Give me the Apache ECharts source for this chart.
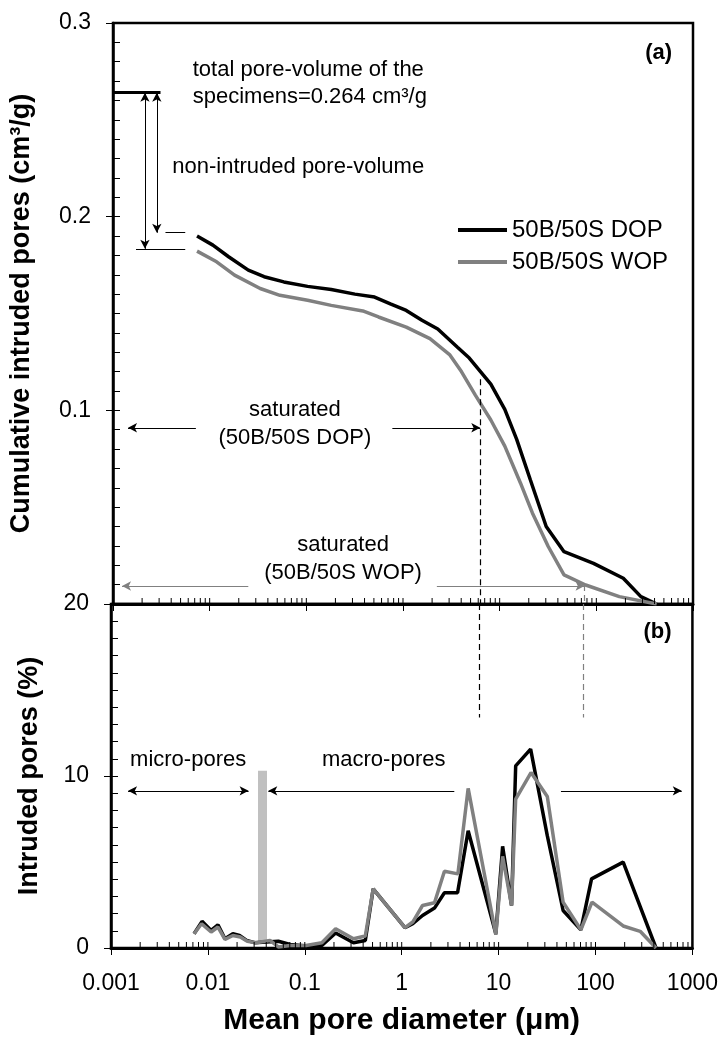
<!DOCTYPE html>
<html><head><meta charset="utf-8">
<script src="https://cdn.jsdelivr.net/npm/echarts/dist/echarts.min.js"></script>
<style>html,body{margin:0;padding:0;background:#fff}#c{width:721px;height:1037px}</style>
</head><body><div id="c"></div>
<script>
const FONT = 'Liberation Sans, Arial, Helvetica, sans-serif';
const BLACK = '#000000';
const GRAY = '#808080';

// ---- Panel (a): cumulative intruded pores (cm3/g) vs mean pore diameter (um)
const cumDiamDOP = [0.0074,0.0108,0.0157,0.0251,0.0366,0.0585,0.103,0.181,0.318,0.508,0.74,1.08,1.57,2.29,3.66,4.85,8.1,11.3,15,20.8,30.3,46.3,93.5,190,289,421];
const cumDOP     = [0.190,0.1853,0.1793,0.1724,0.169,0.1663,0.164,0.1624,0.160,0.1585,0.155,0.1516,0.1465,0.142,0.1326,0.127,0.1135,0.1005,0.085,0.064,0.040,0.027,0.021,0.0133,0.0038,0];
const cumDiamWOP = [0.0074,0.0118,0.0181,0.0333,0.0533,0.103,0.181,0.384,0.558,1.08,1.9,3.03,4.02,5.58,8.1,11.3,16.4,21.8,31.8,46.3,77.6,173,421];
const cumWOP     = [0.1822,0.1767,0.1698,0.1629,0.1594,0.1568,0.1542,0.1513,0.1482,0.143,0.137,0.1288,0.120,0.108,0.095,0.0815,0.0625,0.047,0.0297,0.015,0.0098,0.0038,0];

// ---- Panel (b): intruded pores (%) vs mean pore diameter (um)
const incDiamDOP = [0.0072,0.0087,0.0108,0.0127,0.015,0.0181,0.0212,0.0251,0.0303,0.0402,0.0533,0.0706,0.103,0.15,0.208,0.318,0.421,0.508,1.08,1.3,1.64,2.18,2.76,3.77,4.85,9.36,11,13.6,15,21.4,31.8,46.3,70.6,91,193,421];
const incDOP     = [0.83,1.55,1.02,1.35,0.54,0.83,0.73,0.44,0.31,0.35,0.39,0.2,0.12,0.15,0.87,0.31,0.44,3.44,1.18,1.41,1.89,2.32,3.21,3.21,6.82,0.83,5.91,2.47,10.59,11.56,6.53,2.18,1.06,4.02,4.99,0];
const incDiamWOP = [0.0072,0.0086,0.0108,0.0127,0.015,0.0181,0.0216,0.0255,0.0314,0.0437,0.0533,0.0706,0.103,0.15,0.208,0.318,0.421,0.508,1.08,1.3,1.64,2.18,2.76,3.8,4.85,9.36,11,13.6,15,21.6,31.8,46.3,70.6,92,193,289,421];
const incWOP     = [0.83,1.41,0.93,1.22,0.5,0.73,0.64,0.39,0.31,0.44,0.06,0.15,0.15,0.31,1.12,0.54,0.7,3.44,1.18,1.51,2.47,2.63,4.46,4.31,9.28,0.77,5.33,2.47,8.66,10.2,8.81,2.67,1.06,2.67,1.28,0.97,0];

// ---- axis ticks
const xDecades = [0.001,0.01,0.1,1,10,100,1000];
const xMultipliers = [1,2,3,4,5,6,7,8,9];
const xInnerTicks = [];
xDecades.slice(0, 6).forEach(d => xMultipliers.forEach(m => xInnerTicks.push(+(d * m).toPrecision(3))));
xInnerTicks.push(1000);

// ---- annotation values
const totalPoreVolume = 0.264;
const nonIntrudedDOP = 0.1917;
const nonIntrudedWOP = 0.1834;
const saturatedDOPdiam = 6.3;
const saturatedWOPdiam = 75.5;
const microMacroLimit = 0.0366;

const pair = (xs, ys) => xs.map((x, i) => [x, ys[i]]);

function seg(x1, y1, x2, y2, color, width, s1, s2, type) {
  return [
    {coord: [x1, y1], symbol: s1 || 'none', lineStyle: {color: color, width: width, type: type || 'solid'}},
    {coord: [x2, y2], symbol: s2 || 'none'}
  ];
}

function tickSeries(xi, yi) {
  return {
    type: 'custom', xAxisIndex: xi, yAxisIndex: yi, silent: true, clip: false, z: 10,
    data: xInnerTicks.map(v => [v, 0]),
    renderItem: function (params, api) {
      const p = api.coord([api.value(0), api.value(1)]);
      return {type: 'line', shape: {x1: p[0], y1: p[1], x2: p[0], y2: p[1] - 6},
              style: {stroke: BLACK, lineWidth: 1}};
    }
  };
}

const markLineBase = {silent: true, animation: false, symbolSize: [7, 9], label: {show: false}, emphasis: {disabled: true}};

const xCommon = {
  type: 'log', logBase: 10, min: 0.001, max: 1000, splitNumber: 6,
  axisLine: {show: true, lineStyle: {color: BLACK, width: 3}},
  axisTick: {show: true, inside: false, length: 7, lineStyle: {color: BLACK, width: 1}},
  splitLine: {show: false}, minorTick: {show: false}
};

const option = {
  animation: false,
  backgroundColor: '#ffffff',
  textStyle: {fontFamily: FONT},
  grid: [
    {left: 111, top: 23, width: 582, height: 581, show: true, borderColor: BLACK, borderWidth: 2.5, backgroundColor: 'transparent', containLabel: false},
    {left: 111, top: 604, width: 582, height: 345, show: true, borderColor: BLACK, borderWidth: 2.5, backgroundColor: 'transparent', containLabel: false}
  ],
  legend: {
    data: [{name: '50B/50S DOP', icon: 'rect'}, {name: '50B/50S WOP', icon: 'rect'}],
    orient: 'vertical', left: 453, top: 213,
    itemWidth: 49, itemHeight: 4, itemGap: 8, selectedMode: false,
    textStyle: {fontSize: 24, lineHeight: 24, fontFamily: FONT, color: BLACK}
  },
  xAxis: [
    Object.assign({}, xCommon, {gridIndex: 0, axisLabel: {show: false}}),
    Object.assign({}, xCommon, {gridIndex: 1,
      axisLabel: {show: true, fontSize: 23, fontFamily: FONT, color: BLACK, margin: 24,
        formatter: v => String(Number(Number(v).toPrecision(6)))},
      name: 'Mean pore diameter (μm)', nameLocation: 'middle', nameGap: 58,
      nameTextStyle: {fontSize: 30, fontWeight: 'bold', fontFamily: FONT, color: BLACK}})
  ],
  yAxis: [
    {gridIndex: 0, type: 'value', min: 0, max: 0.3, interval: 0.1, position: 'left',
     axisLine: {show: true, lineStyle: {color: BLACK, width: 2.5}},
     axisTick: {show: true, inside: false, length: 7, lineStyle: {color: BLACK}},
     axisLabel: {fontSize: 23, fontFamily: FONT, color: BLACK, margin: 22,
       formatter: v => (v === 0 ? '' : v.toFixed(1))},
     splitLine: {show: false},
     name: 'Cumulative intruded pores (cm³/g)', nameLocation: 'middle', nameGap: 78,
     nameTextStyle: {fontSize: 27, fontWeight: 'bold', fontFamily: FONT, color: BLACK}},
    {gridIndex: 0, type: 'value', min: 0, max: 0.3, interval: 0.1, position: 'left', offset: 0,
     axisLine: {show: false}, axisLabel: {show: false}, splitLine: {show: false},
     axisTick: {show: true, inside: true, length: 7, lineStyle: {color: BLACK}},
     minorTick: {show: true, splitNumber: 10, length: 7, lineStyle: {color: BLACK, width: 1}}},
    {gridIndex: 1, type: 'value', min: 0, max: 20, interval: 10, position: 'left',
     axisLine: {show: true, lineStyle: {color: BLACK, width: 2.5}},
     axisTick: {show: true, inside: false, length: 7, lineStyle: {color: BLACK}},
     axisLabel: {fontSize: 23, fontFamily: FONT, color: BLACK, margin: 22},
     splitLine: {show: false},
     name: 'Intruded pores (%)', nameLocation: 'middle', nameGap: 68,
     nameTextStyle: {fontSize: 27, fontWeight: 'bold', fontFamily: FONT, color: BLACK}},
    {gridIndex: 1, type: 'value', min: 0, max: 20, interval: 10, position: 'left', offset: 0,
     axisLine: {show: false}, axisLabel: {show: false}, splitLine: {show: false},
     axisTick: {show: true, inside: true, length: 7, lineStyle: {color: BLACK}},
     minorTick: {show: true, splitNumber: 10, length: 7, lineStyle: {color: BLACK, width: 1}}}
  ],
  series: [
    {name: '50B/50S DOP', type: 'line', xAxisIndex: 0, yAxisIndex: 0, data: pair(cumDiamDOP, cumDOP),
     symbol: 'none', lineStyle: {color: BLACK, width: 3.5}, itemStyle: {color: BLACK}, z: 3,
     markLine: Object.assign({}, markLineBase, {data: [
       seg(0.001, totalPoreVolume, 0.0031, totalPoreVolume, BLACK, 3),
       seg(0.00284, totalPoreVolume, 0.00284, nonIntrudedDOP, BLACK, 1, 'arrow', 'arrow'),
       seg(0.00349, nonIntrudedDOP, 0.00559, nonIntrudedDOP, BLACK, 1),
       seg(0.0072, 0.091, 0.00143, 0.091, BLACK, 1, 'none', 'arrow'),
       seg(0.776, 0.091, saturatedDOPdiam, 0.091, BLACK, 1, 'none', 'arrow'),
       seg(saturatedDOPdiam, 0.116, saturatedDOPdiam, 0, BLACK, 1.2, 'none', 'none', [6, 4])
     ]})},
    {name: '50B/50S WOP', type: 'line', xAxisIndex: 0, yAxisIndex: 0, data: pair(cumDiamWOP, cumWOP),
     symbol: 'none', lineStyle: {color: GRAY, width: 3.5}, itemStyle: {color: GRAY}, z: 3,
     markLine: Object.assign({}, markLineBase, {data: [
       seg(0.00214, totalPoreVolume, 0.00214, nonIntrudedWOP, BLACK, 1, 'arrow', 'arrow'),
       seg(0.00173, nonIntrudedWOP, 0.00559, nonIntrudedWOP, BLACK, 1),
       seg(0.0251, 0.0093, 0.00124, 0.0093, GRAY, 1.2, 'none', 'arrow'),
       seg(2.24, 0.0093, saturatedWOPdiam, 0.0093, GRAY, 1.2, 'none', 'arrow'),
       seg(saturatedWOPdiam, 0.0098, saturatedWOPdiam, 0, GRAY, 1.2, 'none', 'none', [6, 4])
     ]})},
    {name: '50B/50S DOP', type: 'line', xAxisIndex: 1, yAxisIndex: 2, data: pair(incDiamDOP, incDOP),
     symbol: 'none', lineStyle: {color: BLACK, width: 3.5}, itemStyle: {color: BLACK}, z: 3,
     markLine: Object.assign({}, markLineBase, {data: [
       seg(0.0015, 9.14, 0.0263, 9.14, BLACK, 1, 'arrow', 'arrow'),
       seg(3.49, 9.14, 0.042, 9.14, BLACK, 1, 'none', 'arrow'),
       seg(44, 9.14, 776, 9.14, BLACK, 1, 'none', 'arrow'),
       seg(saturatedDOPdiam, 20, saturatedDOPdiam, 13.4, BLACK, 1.2, 'none', 'none', [6, 4])
     ]})},
    {name: '50B/50S WOP', type: 'line', xAxisIndex: 1, yAxisIndex: 2, data: pair(incDiamWOP, incWOP),
     symbol: 'none', lineStyle: {color: GRAY, width: 3.5}, itemStyle: {color: GRAY}, z: 4,
     markLine: Object.assign({}, markLineBase, {data: [
       seg(saturatedWOPdiam, 20, saturatedWOPdiam, 13.4, GRAY, 1.2, 'none', 'none', [6, 4])
     ]})},
    {name: 'limit', type: 'line', xAxisIndex: 1, yAxisIndex: 2, data: [[microMacroLimit, 0.3], [microMacroLimit, 10.3]],
     symbol: 'none', lineStyle: {color: '#c0c0c0', width: 9, cap: 'butt'}, z: 2, silent: true},
    tickSeries(0, 0),
    tickSeries(1, 2)
  ]
};

const chart = echarts.init(document.getElementById('c'), null, {renderer: 'canvas'});
chart.setOption(option);

const annotations = [
  {s: 0, x: 0.00668, y: 0.2757, t: 'total pore-volume of the', a: 'left'},
  {s: 0, x: 0.00668, y: 0.2618, t: 'specimens=0.264 cm³/g', a: 'left'},
  {s: 0, x: 0.0041, y: 0.2256, t: 'non-intruded pore-volume', a: 'left'},
  {s: 0, x: 608, y: 0.2845, t: '(a)', a: 'right', b: true},
  {s: 0, x: 0.0762, y: 0.1002, t: 'saturated', a: 'center'},
  {s: 0, x: 0.0762, y: 0.0857, t: '(50B/50S DOP)', a: 'center'},
  {s: 0, x: 0.24, y: 0.0305, t: 'saturated', a: 'center'},
  {s: 0, x: 0.24, y: 0.0159, t: '(50B/50S WOP)', a: 'center'},
  {s: 2, x: 608, y: 18.4, t: '(b)', a: 'right', b: true},
  {s: 2, x: 0.00625, y: 10.96, t: 'micro-pores', a: 'center'},
  {s: 2, x: 0.652, y: 10.96, t: 'macro-pores', a: 'center'}
];

chart.setOption({
  graphic: annotations.map(function (n) {
    const p = chart.convertToPixel({seriesIndex: n.s}, [n.x, n.y]);
    return {
      type: 'text', x: p[0], y: p[1], silent: true, z: 20,
      style: {text: n.t, fill: BLACK, textAlign: n.a, textVerticalAlign: 'middle',
        font: (n.b ? 'bold ' : '') + '22px ' + FONT}
    };
  })
});
</script>
</body></html>
